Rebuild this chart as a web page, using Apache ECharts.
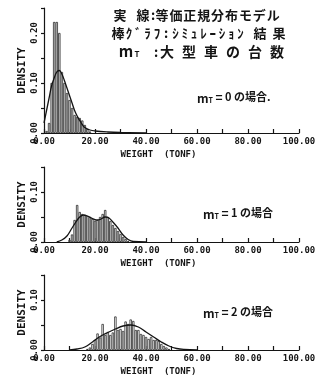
<!DOCTYPE html>
<html>
<head>
<meta charset="utf-8">
<script src="https://cdn.jsdelivr.net/npm/echarts@6/dist/echarts.min.js"></script>
<style>
  html, body { margin: 0; padding: 0; background: #fff; }
  #main { width: 324px; height: 383px; }
</style>
</head>
<body>
<div id="main"></div>
<script>
// histogram bins (centre of each 1 tonf bin) and simulated densities
var p1Bins = [1, 2, 3, 4, 5, 6, 7, 8, 9, 10, 11, 12, 13, 14, 15, 16, 17, 18];
var p1Hist = [0.004, 0.02, 0.10, 0.222, 0.222, 0.20, 0.122, 0.10, 0.08, 0.066, 0.05, 0.036, 0.032, 0.03, 0.025, 0.016, 0.008, 0.003];
var p2Bins = [10, 11, 12, 13, 14, 15, 16, 17, 18, 19, 20, 21, 22, 23, 24, 25, 26, 27, 28, 29, 30, 31, 32, 33];
var p2Hist = [0.004, 0.015, 0.044, 0.074, 0.06, 0.056, 0.054, 0.052, 0.05, 0.046, 0.042, 0.044, 0.05, 0.056, 0.064, 0.05, 0.042, 0.034, 0.028, 0.022, 0.016, 0.01, 0.006, 0.002];
var p3Bins = [17, 18, 19, 20, 21, 22, 23, 24, 25, 26, 27, 28, 29, 30, 31, 32, 33, 34, 35, 36, 37, 38, 39, 40, 41, 42, 43, 44, 45, 46, 47, 48, 49];
var p3Hist = [0.002, 0.005, 0.012, 0.02, 0.033, 0.025, 0.052, 0.03, 0.036, 0.03, 0.035, 0.067, 0.04, 0.042, 0.038, 0.057, 0.052, 0.061, 0.058, 0.04, 0.04, 0.032, 0.03, 0.026, 0.022, 0.026, 0.02, 0.02, 0.018, 0.012, 0.008, 0.005, 0.002];

// equivalent normal distribution model curves
var p1CurveX = [0, 1, 2, 3, 4, 5, 6, 7, 8, 9, 10, 11, 12, 13, 14, 15, 16, 18, 20, 25, 30, 40];
var p1CurveY = [0.02, 0.045, 0.07, 0.095, 0.11, 0.122, 0.125, 0.118, 0.105, 0.09, 0.075, 0.06, 0.045, 0.034, 0.025, 0.017, 0.011, 0.006, 0.004, 0.002, 0.001, 0];
var p2CurveX = [5, 7, 9, 11, 12.5, 14, 15.5, 17, 19, 20.5, 22, 24, 25.5, 27, 29, 31, 33, 35, 40];
var p2CurveY = [0, 0.004, 0.012, 0.028, 0.04, 0.05, 0.054, 0.052, 0.047, 0.044, 0.045, 0.05, 0.048, 0.04, 0.028, 0.014, 0.005, 0.001, 0];
var p3CurveX = [10, 13, 16, 19, 22, 25, 28, 31, 34, 37, 40, 43, 46, 49, 52, 55, 60];
var p3CurveY = [0, 0.002, 0.006, 0.016, 0.027, 0.035, 0.042, 0.048, 0.05, 0.046, 0.036, 0.026, 0.016, 0.008, 0.003, 0.001, 0];

var yMax = [0.25, 0.15, 0.15];
var caseLabels = ['0 の場合.', '1 の場合', '2 の場合'];
var xName = 'WEIGHT  (TONF)';
var yName = 'DENSITY';

var INK = '#141414';
var MONO = 'DejaVu Sans Mono';
var JP = 'Noto Sans CJK JP';
var barFill = ['#dcdcdc', '#e2e2e2', '#ffffff'];

function pairs(xs, ys) {
  return xs.map(function (x, i) { return [x, ys[i]]; });
}

var grids = [
  { left: 44, top: 8, width: 255, height: 125 },
  { left: 44, top: 167, width: 255, height: 75 },
  { left: 44, top: 275, width: 255, height: 75 }
];

var xAxes = grids.map(function (g, i) {
  return {
    type: 'value', gridIndex: i, min: 0, max: 100, interval: 10,
    axisLine: { lineStyle: { color: INK, width: 1.2 } },
    axisTick: { inside: true, length: 4, lineStyle: { color: INK, width: 1.2 } },
    splitLine: { show: false },
    axisLabel: {
      margin: 4, color: INK, fontFamily: MONO, fontWeight: 'bold', fontSize: 9,
      formatter: function (v) { return v % 20 === 0 ? v.toFixed(2) : ''; }
    },
    name: xName, nameLocation: 'middle', nameGap: 17, nameMoveOverlap: false,
    nameTextStyle: { color: INK, fontFamily: MONO, fontWeight: 'bold', fontSize: 9, padding: [0, 26, 0, 0] }
  };
});

var yAxes = grids.map(function (g, i) {
  return {
    type: 'value', gridIndex: i, min: 0, max: yMax[i], interval: 0.05,
    axisLine: { show: true, lineStyle: { color: INK, width: 1.2 } },
    axisTick: { show: true, length: 3, lineStyle: { color: INK, width: 1.2 } },
    splitLine: { show: false },
    axisLabel: {
      rotate: 90, margin: 5, color: INK, fontFamily: MONO, fontWeight: 'bold', fontSize: 9,
      formatter: function (v) { return Math.round(v * 100) % 10 === 0 ? v.toFixed(2) : ''; }
    },
    name: yName, nameLocation: 'middle', nameRotate: 90, nameGap: 16, nameMoveOverlap: false,
    nameTextStyle: { color: INK, fontFamily: MONO, fontWeight: 'bold', fontSize: 11 }
  };
});

var hists = [[p1Bins, p1Hist], [p2Bins, p2Hist], [p3Bins, p3Hist]];
var curves = [[p1CurveX, p1CurveY], [p2CurveX, p2CurveY], [p3CurveX, p3CurveY]];

var series = [];
hists.forEach(function (h, i) {
  series.push({
    type: 'bar', xAxisIndex: i, yAxisIndex: i, barWidth: 2.3,
    data: pairs(h[0], h[1]),
    itemStyle: { color: barFill[i], borderColor: INK, borderWidth: 0.7 },
    silent: true
  });
});
curves.forEach(function (c, i) {
  series.push({
    type: 'line', xAxisIndex: i, yAxisIndex: i, smooth: 0.4, showSymbol: false,
    data: pairs(c[0], c[1]),
    lineStyle: { color: INK, width: 1.3 }, z: 5, silent: true
  });
});

// annotation text, placed glyph by glyph to mimic the spaced typewriter layout
var graphics = [];
function glyphs(str, x0, step, y, size) {
  Array.from(str).forEach(function (ch, k) {
    graphics.push({
      type: 'text', x: x0 + k * step, y: y,
      style: { text: ch, fill: INK, fontFamily: JP, fontWeight: 'bold', fontSize: size, align: 'center', verticalAlign: 'middle' }
    });
  });
}
glyphs('実', 120, 0, 15, 13);
glyphs('線:', 143, 10, 15, 13);
glyphs('等価正規分布モデル', 162, 13.9, 15, 13);
glyphs('棒', 118, 0, 33, 13);
glyphs('ｸﾞﾗﾌ:ｼﾐｭﾚｰｼｮﾝ', 129, 9.3, 33, 13);
glyphs('結果', 260, 19, 33, 13);
glyphs('m', 126, 0, 51, 15);
glyphs('T', 137, 0, 54, 8);
glyphs(':', 156, 0, 52, 13);
glyphs('大型車の台数', 167, 22, 52, 14);

var caseY = [97, 213, 312];
var caseX = [197, 203, 203];
caseLabels.forEach(function (t, i) {
  graphics.push({
    type: 'text', x: caseX[i], y: caseY[i],
    style: {
      text: '{m|m}{s|T} {e|=} ' + t,
      fill: INK, fontFamily: JP, fontWeight: 'bold', fontSize: 11, verticalAlign: 'middle',
      rich: {
        m: { fontFamily: JP, fontWeight: 'bold', fontSize: 12, lineHeight: 14, verticalAlign: 'bottom' },
        s: { fontFamily: JP, fontWeight: 'bold', fontSize: 7, lineHeight: 14, verticalAlign: 'bottom' },
        e: { fontFamily: JP, fontWeight: 'bold', fontSize: 12, lineHeight: 14 }
      }
    }
  });
});

var chart = echarts.init(document.getElementById('main'), null, { renderer: 'canvas' });
chart.setOption({
  animation: false,
  backgroundColor: '#fff',
  grid: grids,
  xAxis: xAxes,
  yAxis: yAxes,
  series: series,
  graphic: graphics
});
</script>
</body>
</html>
